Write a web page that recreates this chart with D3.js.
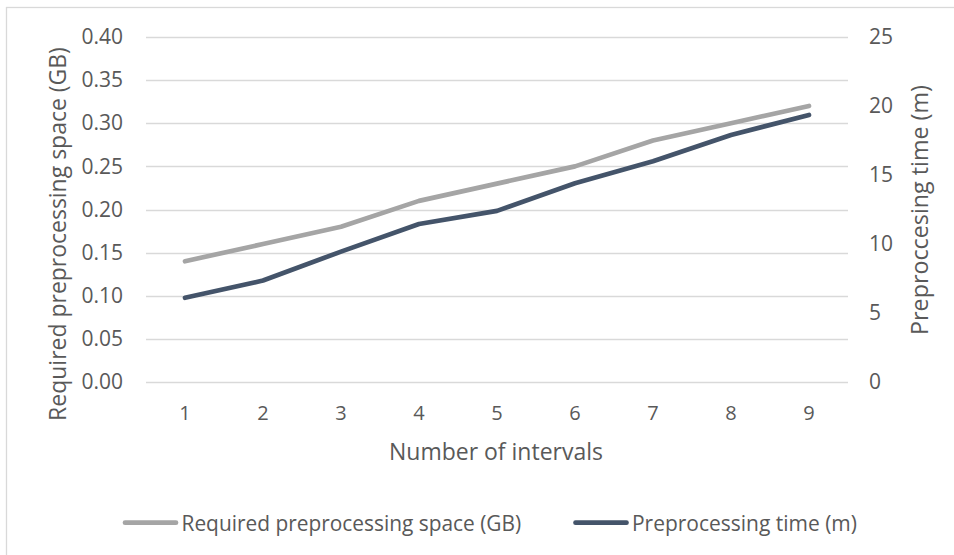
<!DOCTYPE html>
<html>
<head>
<meta charset="utf-8">
<script src="https://cdn.jsdelivr.net/npm/d3@7"></script>
<style>
  body { margin: 0; background: #fff; }
  text { font-family: "Open Sans", sans-serif; fill: #595959; }
</style>
</head>
<body>
<div id="chart"></div>
<script>
var intervals = [1, 2, 3, 4, 5, 6, 7, 8, 9],
    spaceGB   = [0.14, 0.16, 0.18, 0.21, 0.23, 0.25, 0.28, 0.30, 0.32],
    timeMin   = [6.1, 7.35, 9.45, 11.45, 12.4, 14.4, 16.0, 17.9, 19.35],
    leftTicks  = [0, 0.05, 0.10, 0.15, 0.20, 0.25, 0.30, 0.35, 0.40],
    rightTicks = [0, 5, 10, 15, 20, 25];

var width  = 954,
    height = 555,
    m      = { left: 146, right: 954 - 848, top: 37, bottom: 555 - 382 },
    svg    = d3.select('#chart').append('svg')
        .attr('width', width)
        .attr('height', height);

// scale a label's font so its length matches the reference
function fit(sel, target) {
    var len = sel.node().getComputedTextLength(),
        fs  = parseFloat(sel.style('font-size'));
    sel.style('font-size', (fs * target / len) + 'px');
    return sel;
}

// chart area border (runs off the right and bottom edge)
svg.append('rect')
    .attr('x', 6.5).attr('y', 7.5)
    .attr('width', width).attr('height', height)
    .attr('fill', 'none')
    .attr('stroke', '#d9d9d9')
    .attr('stroke-width', 1.3);

var x = d3.scaleBand()
        .domain(intervals)
        .range([m.left, width - m.right]),
    yL = d3.scaleLinear().domain([0, 0.40]).range([height - m.bottom, m.top]),
    yR = d3.scaleLinear().domain([0, 25]).range([height - m.bottom, m.top]);

// gridlines
svg.append('g')
    .selectAll('line')
    .data(leftTicks)
    .enter()
    .append('line')
    .attr('x1', m.left).attr('x2', width - m.right)
    .attr('y1', function(d) { return Math.round(yL(d)) + 0.5; })
    .attr('y2', function(d) { return Math.round(yL(d)) + 0.5; })
    .attr('stroke', '#d9d9d9')
    .attr('stroke-width', 1.3);

var leftAxis = d3.axisLeft(yL).tickValues(leftTicks).tickSize(0).tickPadding(0)
        .tickFormat(d3.format('.2f')),
    rightAxis = d3.axisRight(yR).tickValues(rightTicks).tickSize(0).tickPadding(0),
    bottomAxis = d3.axisBottom(x).tickSize(0).tickPadding(0);

var gl = svg.append('g')
    .attr('transform', 'translate(123,0)')
    .call(leftAxis)
    .call(function(g) { g.select('.domain').remove(); });

var gr = svg.append('g')
    .attr('transform', 'translate(869,0)')
    .call(rightAxis)
    .call(function(g) { g.select('.domain').remove(); });

var gb = svg.append('g')
    .attr('transform', 'translate(0,406)')
    .call(bottomAxis)
    .call(function(g) { g.select('.domain').remove(); });

gl.selectAll('text').style('font-size', '21px').attr('fill', '#595959');
gr.selectAll('text').style('font-size', '21px').attr('fill', '#595959');
gb.selectAll('text').style('font-size', '20px').attr('fill', '#595959');

// axis titles
fit(svg.append('text')
    .attr('transform', 'translate(66,234) rotate(-90)')
    .attr('text-anchor', 'middle')
    .style('font-size', '22px')
    .text('Required preprocessing space (GB)'), 374);

fit(svg.append('text')
    .attr('transform', 'translate(928,210) rotate(-90)')
    .attr('text-anchor', 'middle')
    .style('font-size', '22px')
    .text('Preproccesing time (m)'), 250);

fit(svg.append('text')
    .attr('x', 496).attr('y', 460)
    .attr('text-anchor', 'middle')
    .style('font-size', '22px')
    .text('Number of intervals'), 214);

// series
var cx = function(d, i) { return x(intervals[i]) + x.bandwidth() / 2; };

svg.append('path')
    .datum(spaceGB)
    .attr('fill', 'none')
    .attr('stroke', '#a5a5a5')
    .attr('stroke-width', 4.7)
    .attr('stroke-linecap', 'round')
    .attr('stroke-linejoin', 'round')
    .attr('d', d3.line().x(cx).y(function(d) { return yL(d); }));

svg.append('path')
    .datum(timeMin)
    .attr('fill', 'none')
    .attr('stroke', '#44546a')
    .attr('stroke-width', 4.7)
    .attr('stroke-linecap', 'round')
    .attr('stroke-linejoin', 'round')
    .attr('d', d3.line().x(cx).y(function(d) { return yR(d); }));

// legend
var legend = [
    { name: 'Required preprocessing space (GB)', color: '#a5a5a5', x: 125, len: 340 },
    { name: 'Preprocessing time (m)', color: '#44546a', x: 575.5, len: 225 }
];

var lg = svg.append('g').selectAll('g')
    .data(legend)
    .enter()
    .append('g')
    .attr('transform', function(d) { return 'translate(' + d.x + ',522.7)'; });

lg.append('line')
    .attr('x1', 0).attr('x2', 51)
    .attr('stroke', function(d) { return d.color; })
    .attr('stroke-width', 4.7)
    .attr('stroke-linecap', 'round');

lg.append('text')
    .attr('x', 56.5).attr('y', 8)
    .style('font-size', '22px')
    .text(function(d) { return d.name; })
    .each(function(d) { fit(d3.select(this), d.len); });
</script>
</body>
</html>
